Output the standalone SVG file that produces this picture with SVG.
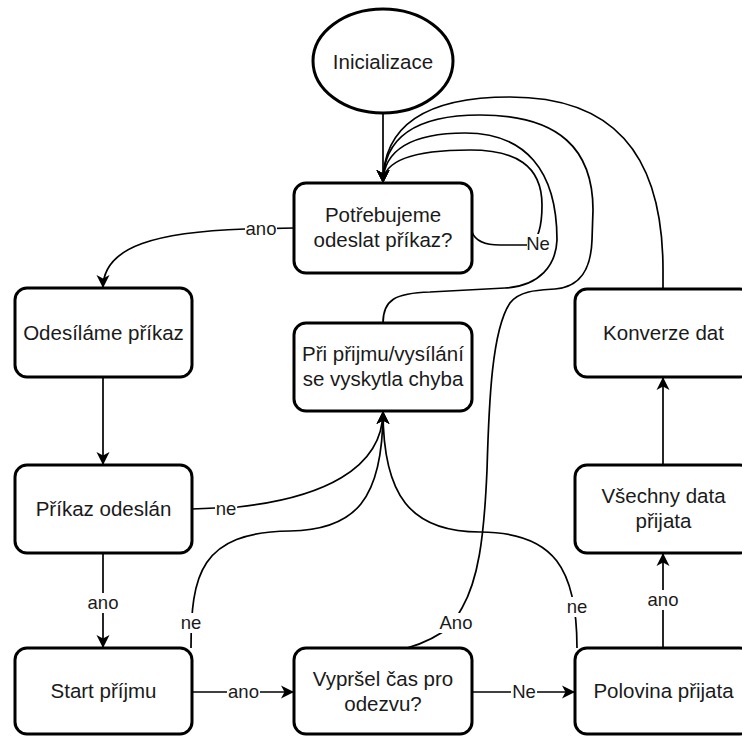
<svg xmlns="http://www.w3.org/2000/svg" width="742" height="736" viewBox="0 0 742 736">
<style>
.box{fill:#fff;stroke:#000;stroke-width:3}
.t{font-family:"Liberation Sans",Arial,sans-serif;font-size:20.5px;fill:#1a1a1a;text-anchor:middle}
.c{fill:none;stroke:#000;stroke-width:1.7}
.lb{fill:#fff}
.lt{font-family:"Liberation Sans",Arial,sans-serif;font-size:18.5px;fill:#1a1a1a;text-anchor:middle}
</style>
<defs>
<marker id="arr" markerUnits="userSpaceOnUse" viewBox="0 0 14 14" markerWidth="14" markerHeight="14" refX="13" refY="7" orient="auto">
<path d="M0,0.5 L13,7 L0,13.5 L3.5,7 Z" fill="#000"/>
</marker>
</defs>
<rect width="742" height="736" fill="#fff"/>

<g id="connectors">
<path class="c" d="M383,114 L383,183" marker-end="url(#arr)"/>
<path class="c" d="M294,228 L245,229 C160,232 103,245 103,288" marker-end="url(#arr)"/>
<path class="c" d="M103,377 L103,465" marker-end="url(#arr)"/>
<path class="c" d="M103,553 L103,648" marker-end="url(#arr)"/>
<path class="c" d="M192,692 L294,692" marker-end="url(#arr)"/>
<path class="c" d="M472,692 L575,692" marker-end="url(#arr)"/>
<path class="c" d="M663,648 L663,553" marker-end="url(#arr)"/>
<path class="c" d="M663,465 L663,377" marker-end="url(#arr)"/>
<path class="c" d="M663,289 L663,270 C663,150 610,97 510,97 C420,97 383,130 383,183" marker-end="url(#arr)"/>
<path class="c" d="M407,648 C425,643 440,635 452,625 L462,608 C478,580 484,540 487,470 C489,400 492,330 510,303 C520,290 540,290 555,289 C580,287 591,270 592,240 L593,210 C593,150 560,115 480,115 C420,115 383,135 383,183" marker-end="url(#arr)"/>
<path class="c" d="M383,323 C383,300 395,293 430,292 L505,288 C540,286 556,265 557,240 C557,170 525,133 465,133 C412,133 383,150 383,183" marker-end="url(#arr)"/>
<path class="c" d="M472,232 C476,243 488,245 500,245 L530,245 C538,240 542,225 542,205 C542,165 515,150 470,150 C415,150 383,160 383,183" marker-end="url(#arr)"/>
<path class="c" d="M192,509 L238,507 C320,498 383,470 383,411" marker-end="url(#arr)"/>
<path class="c" d="M191,648 C191,575 200,532 290,531 C355,530 383,500 383,411" marker-end="url(#arr)"/>
<path class="c" d="M577,648 C577,570 555,532 480,532 C410,532 383,495 383,411" marker-end="url(#arr)"/>

<rect class="lb" x="245" y="219" width="32" height="20"/><text class="lt" x="261" y="235">ano</text>
<rect class="lb" x="527" y="234" width="22" height="20"/><text class="lt" x="538" y="250">Ne</text>
<rect class="lb" x="215" y="499" width="22" height="20"/><text class="lt" x="226" y="515">ne</text>
<rect class="lb" x="87" y="593" width="32" height="20"/><text class="lt" x="103" y="609">ano</text>
<rect class="lb" x="180" y="613" width="22" height="20"/><text class="lt" x="191" y="629">ne</text>
<rect class="lb" x="438" y="613" width="36" height="20"/><text class="lt" x="456" y="629">Ano</text>
<rect class="lb" x="566" y="597" width="22" height="20"/><text class="lt" x="577" y="613">ne</text>
<rect class="lb" x="227" y="682" width="33" height="20"/><text class="lt" x="243.5" y="698">ano</text>
<rect class="lb" x="511" y="682" width="26" height="20"/><text class="lt" x="524" y="698">Ne</text>
<rect class="lb" x="647" y="590" width="32" height="20"/><text class="lt" x="663" y="606">ano</text>
</g>

<g id="inicializace">
<ellipse class="box" cx="383" cy="61" rx="70" ry="52"/>
<text class="t" x="383" y="69">Inicializace</text>
</g>
<g id="potrebujeme">
<rect class="box" x="294" y="183" width="178" height="90" rx="12"/>
<text class="t" x="383" y="222">Potřebujeme</text>
<text class="t" x="383" y="247">odeslat příkaz?</text>
</g>
<g id="odesilame">
<rect class="box" x="15" y="288" width="177" height="89" rx="12"/>
<text class="t" x="103.5" y="340">Odesíláme příkaz</text>
</g>
<g id="chyba">
<rect class="box" x="294" y="323" width="178" height="88" rx="12"/>
<text class="t" x="383" y="361">Při přijmu/vysílání</text>
<text class="t" x="383" y="386">se vyskytla chyba</text>
</g>
<g id="konverze">
<rect class="box" x="575" y="289" width="177" height="88" rx="12"/>
<text class="t" x="663.5" y="340">Konverze dat</text>
</g>
<g id="odeslan">
<rect class="box" x="15" y="465" width="177" height="88" rx="12"/>
<text class="t" x="103.5" y="516">Příkaz odeslán</text>
</g>
<g id="vsechny">
<rect class="box" x="575" y="465" width="177" height="88" rx="12"/>
<text class="t" x="663.5" y="503">Všechny data</text>
<text class="t" x="663.5" y="528">přijata</text>
</g>
<g id="start">
<rect class="box" x="15" y="648" width="177" height="86" rx="12"/>
<text class="t" x="103.5" y="698">Start příjmu</text>
</g>
<g id="vyprsel">
<rect class="box" x="294" y="648" width="178" height="86" rx="12"/>
<text class="t" x="383" y="686">Vypršel čas pro</text>
<text class="t" x="383" y="711">odezvu?</text>
</g>
<g id="polovina">
<rect class="box" x="575" y="648" width="177" height="86" rx="12"/>
<text class="t" x="663.5" y="698">Polovina přijata</text>
</g>
</svg>
